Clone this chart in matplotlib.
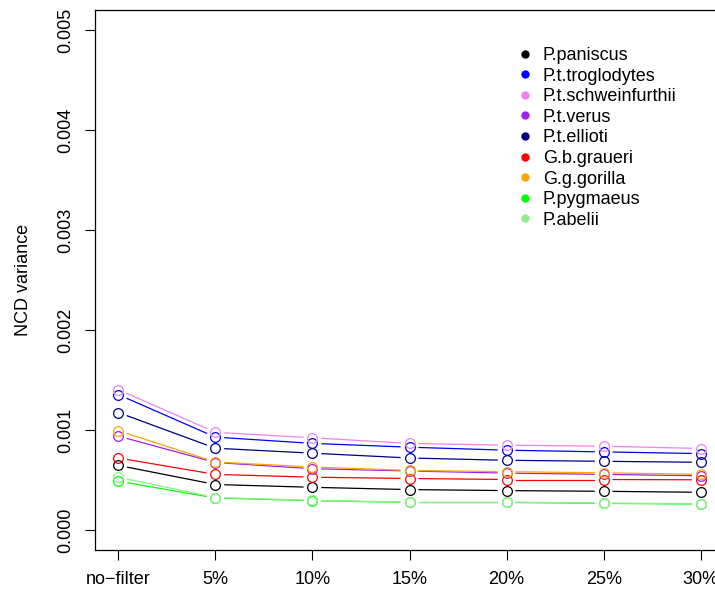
import numpy as np
import matplotlib
matplotlib.use("Agg")
import matplotlib.pyplot as plt
from matplotlib.lines import Line2D

plt.rcParams['font.family'] = ['Liberation Sans', 'DejaVu Sans']

filters = ["no\u2212filter", "5%", "10%", "15%", "20%", "25%", "30%"]

species = ["P.paniscus", "P.t.troglodytes", "P.t.schweinfurthii", "P.t.verus",
           "P.t.ellioti", "G.b.graueri", "G.g.gorilla", "P.pygmaeus", "P.abelii"]
colors = ["black", "#0000FF", "#EE82EE", "#A020F0", "#000080",
          "#FF0000", "#FFA500", "#00FF00", "#90EE90"]

paniscus = [0.000646, 0.000455, 0.000427, 0.000404, 0.000394, 0.000387, 0.000377]
troglodytes = [0.001354, 0.000929, 0.000866, 0.000828, 0.000798, 0.000781, 0.000764]
schweinfurthii = [0.001404, 0.000977, 0.000922, 0.000866, 0.000848, 0.000838, 0.000815]
verus = [0.000939, 0.000675, 0.000613, 0.000590, 0.000569, 0.000556, 0.000542]
ellioti = [0.001175, 0.000818, 0.000768, 0.000720, 0.000697, 0.000687, 0.000677]
graueri = [0.000720, 0.000556, 0.000528, 0.000515, 0.000505, 0.000505, 0.000502]
gorilla = [0.000993, 0.000680, 0.000630, 0.000596, 0.000583, 0.000572, 0.000556]
pygmaeus = [0.000488, 0.000320, 0.000293, 0.000276, 0.000276, 0.000266, 0.000259]
abelii = [0.000528, 0.000325, 0.000296, 0.000279, 0.000279, 0.000269, 0.000262]

series = [paniscus, troglodytes, schweinfurthii, verus, ellioti,
          graueri, gorilla, pygmaeus, abelii]

fig = plt.figure(figsize=(7.15, 5.94), dpi=100)
ax = fig.add_axes([95 / 715, 44 / 594, 629 / 715, 540 / 594])

x = np.arange(1, len(filters) + 1)
ax.set_xlim(1 - 0.24, 7 + 0.24)
ax.set_ylim(-0.0002, 0.0052)
fig.canvas.draw()

gap = 9.5  # pixels left open around each point, like R type="b"
for vals, col in zip(series, colors):
    pts = ax.transData.transform(np.column_stack([x, vals]))
    for i in range(len(pts) - 1):
        p0, p1 = pts[i], pts[i + 1]
        d = p1 - p0
        L = np.hypot(*d)
        if L <= 2 * gap:
            continue
        u = d / L
        seg = ax.transData.inverted().transform(np.array([p0 + u * gap, p1 - u * gap]))
        ax.plot(seg[:, 0], seg[:, 1], color=col, lw=0.9)
    ax.plot(x, vals, 'o', mfc='none', mec=col, ms=7, mew=0.9)

ax.set_xticks(x)
ax.set_xticklabels(filters, fontsize=13)
ax.set_yticks([0, 0.001, 0.002, 0.003, 0.004, 0.005])
ax.set_yticklabels(["0.000", "0.001", "0.002", "0.003", "0.004", "0.005"],
                   fontsize=13, rotation=90, va='center')
ax.tick_params(axis='x', length=7, width=0.8, pad=8)
ax.tick_params(axis='y', length=7, width=0.8, pad=8)
ax.set_ylabel("NCD variance", fontsize=13, labelpad=18)
for s in ax.spines.values():
    s.set_linewidth(0.9)

handles = [Line2D([], [], marker='o', ls='none', color=c, ms=5) for c in colors]
ax.legend(handles, species, loc='upper left', bbox_to_anchor=(0.66, 0.945),
          frameon=False, fontsize=13, handlelength=0.8, handletextpad=0.6,
          labelspacing=0.2, borderaxespad=0)

fig.savefig("out.png", dpi=100)
